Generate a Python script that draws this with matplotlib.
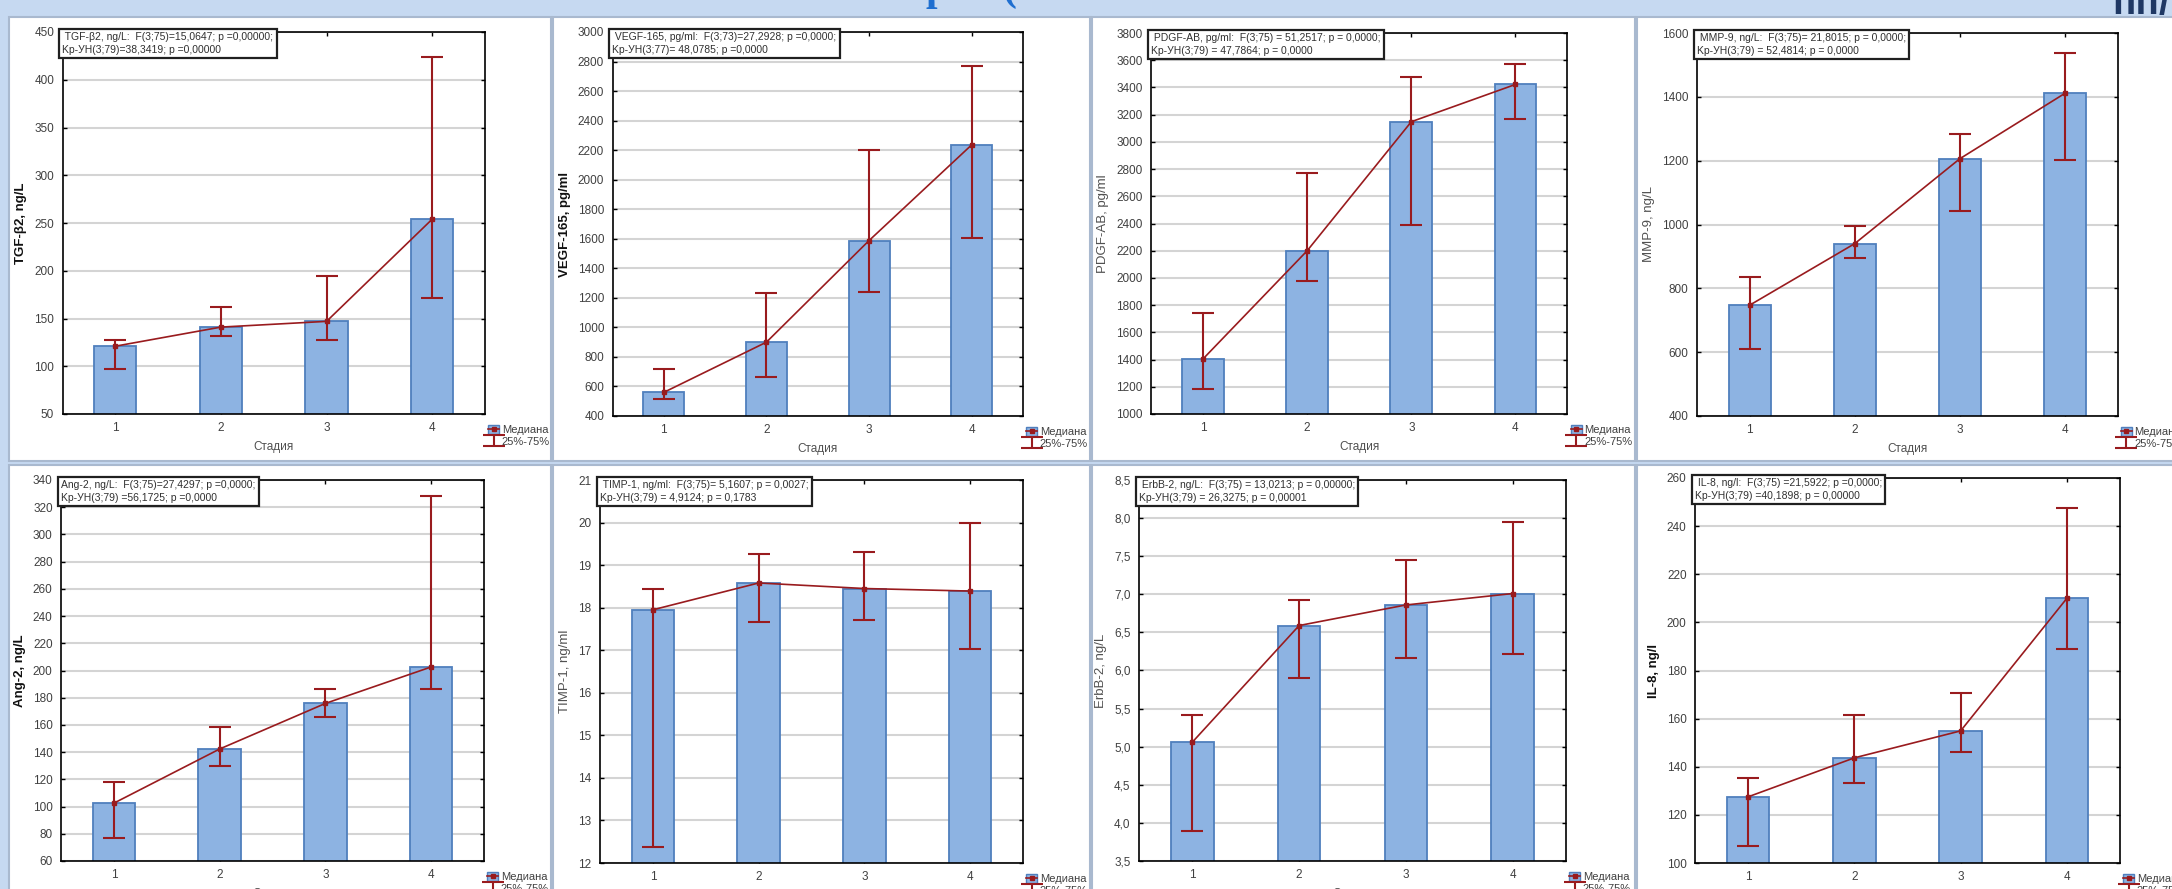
import matplotlib
matplotlib.use("Agg")
import matplotlib.pyplot as plt
from matplotlib.patches import Rectangle, Patch
from matplotlib.lines import Line2D
from matplotlib.ticker import FuncFormatter, MultipleLocator
import numpy as np

# ---------------- data ----------------
stages = [1, 2, 3, 4]
stage_labels = ['1', '2', '3', '4']

tgf_med = [121, 141, 147, 254]
tgf_q1 = [97, 132, 128, 171]
tgf_q3 = [128, 162, 195, 424]

vegf_med = [560, 900, 1588, 2236]
vegf_q1 = [518, 665, 1239, 1605]
vegf_q3 = [716, 1230, 2200, 2772]

pdgf_med = [1405, 2200, 3148, 3422]
pdgf_q1 = [1184, 1978, 2391, 3166]
pdgf_q3 = [1740, 2769, 3477, 3572]

mmp_med = [747, 940, 1206, 1411]
mmp_q1 = [611, 895, 1042, 1201]
mmp_q3 = [836, 996, 1284, 1538]

ang_med = [102.5, 142.3, 175.8, 202.6]
ang_q1 = [76.7, 129.5, 166.1, 186.5]
ang_q3 = [117.7, 158.5, 186.3, 328]

timp_med = [17.95, 18.58, 18.45, 18.39]
timp_q1 = [12.37, 17.66, 17.70, 17.04]
timp_q3 = [18.45, 19.27, 19.31, 20.0]

erb_med = [5.06, 6.59, 6.86, 7.01]
erb_q1 = [3.89, 5.90, 6.17, 6.21]
erb_q3 = [5.42, 6.92, 7.45, 7.95]

il8_med = [127.5, 143.7, 154.9, 210]
il8_q1 = [106.9, 133.1, 146.3, 188.75]
il8_q3 = [135.4, 161.4, 170.6, 247.6]

ylabels = ['TGF-β2, ng/L', 'VEGF-165, pg/ml', 'PDGF-AB, pg/ml', 'MMP-9, ng/L',
           'Ang-2, ng/L', 'TIMP-1, ng/ml', 'ErbB-2, ng/L', 'IL-8, ng/l']
stat_texts = [
    ' TGF-β2, ng/L:  F(3;75)=15,0647; p =0,00000;\nKp-УН(3;79)=38,3419; p =0,00000',
    ' VEGF-165, pg/ml:  F(3;73)=27,2928; p =0,0000;\nKp-УН(3;77)= 48,0785; p =0,0000',
    ' PDGF-AB, pg/ml:  F(3;75) = 51,2517; p = 0,0000;\nKp-УН(3;79) = 47,7864; p = 0,0000',
    ' MMP-9, ng/L:  F(3;75)= 21,8015; p = 0,0000;\nKp-УН(3;79) = 52,4814; p = 0,0000',
    'Ang-2, ng/L:  F(3;75)=27,4297; p =0,0000;\nKp-УН(3;79) =56,1725; p =0,0000',
    ' TIMP-1, ng/ml:  F(3;75)= 5,1607; p = 0,0027;\nKp-УН(3;79) = 4,9124; p = 0,1783',
    ' ErbB-2, ng/L:  F(3;75) = 13,0213; p = 0,00000;\nKp-УН(3;79) = 26,3275; p = 0,00001',
    ' IL-8, ng/l:  F(3;75) =21,5922; p =0,0000;\nKp-УН(3;79) =40,1898; p = 0,00000',
]
xlabel_text = 'Стадия'
legend_labels = ['Медиана', '25%-75%']

# ---------------- style ----------------
W, H = 2172, 889
FONT = ['Liberation Sans Narrow', 'Liberation Sans', 'DejaVu Sans']
plt.rcParams['font.family'] = FONT
BG = '#c6d9f1'
BAR_FC = '#8db3e2'
BAR_EC = '#4f7fbd'
RED = '#991b1e'

fig = plt.figure(figsize=(W / 100, H / 100), dpi=100, facecolor=BG)


def frac_rect(l, t, r, b):
    return [l / W, 1 - b / H, (r - l) / W, (b - t) / H]


# panels (white boxes)
cols = [(9, 551), (553, 1090), (1092, 1635), (1637, 2185)]
rows = [(17, 461), (465, 900)]
for (t, b) in rows:
    for (l, r) in cols:
        fig.patches.append(Rectangle((l / W, 1 - b / H), (r - l) / W, (b - t) / H,
                                     transform=fig.transFigure, facecolor='white',
                                     edgecolor='#a9b9cf', linewidth=1.5, zorder=-10))

# cut-off title fragments at top
fig.text(926 / W, 1.0, 'р', fontsize=30, fontweight='bold', color='#1f6fd0',
         family=['Liberation Serif', 'DejaVu Serif'], va='baseline', ha='left')
fig.text(1002 / W, 1.0, '(', fontsize=30, fontweight='bold', color='#1f6fd0',
         family=['Liberation Serif', 'DejaVu Serif'], va='baseline', ha='left')
fig.text(2112 / W, 1 - 14 / H, 'пп/', fontsize=28, fontweight='bold', color='#1f3864',
         family=['Liberation Sans', 'DejaVu Sans'], va='baseline', ha='left')

axes_px = [
    (62.5, 32, 485, 414),
    (612.5, 32, 1023, 416),
    (1151, 33, 1567.5, 414),
    (1697, 33, 2117.5, 416),
    (61, 480, 484, 861),
    (600, 480, 1023, 863),
    (1139, 480, 1566, 861),
    (1695, 478, 2120, 863),
]
ylims = [(50, 450), (400, 3000), (1000, 3800), (400, 1600),
         (60, 340), (12, 21), (3.5, 8.5), (100, 260)]
ysteps = [50, 200, 200, 200, 20, 1, 0.5, 20]
bold_label = [True, True, False, False, True, False, False, True]

meds = [tgf_med, vegf_med, pdgf_med, mmp_med, ang_med, timp_med, erb_med, il8_med]
q1s = [tgf_q1, vegf_q1, pdgf_q1, mmp_q1, ang_q1, timp_q1, erb_q1, il8_q1]
q3s = [tgf_q3, vegf_q3, pdgf_q3, mmp_q3, ang_q3, timp_q3, erb_q3, il8_q3]

for i in range(8):
    ax = fig.add_axes(frac_rect(*axes_px[i]), zorder=2)
    med = np.array(meds[i], dtype=float)
    lo = np.array(q1s[i], dtype=float)
    hi = np.array(q3s[i], dtype=float)
    ax.bar(stages, med, width=0.4, color=BAR_FC, edgecolor=BAR_EC, linewidth=1.3, zorder=2)
    eb = ax.errorbar(stages, med, yerr=[med - lo, hi - med], fmt='none', ecolor=RED,
                     elinewidth=1.5, capsize=8, capthick=1.5, zorder=3)
    ln, = ax.plot(stages, med, color=RED, lw=1.2, marker='s', ms=3.5, zorder=4)

    ax.set_xlim(0.5, 4.5)
    ax.set_ylim(*ylims[i])
    ax.yaxis.set_major_locator(MultipleLocator(ysteps[i]))
    if i == 6:
        ax.yaxis.set_major_formatter(FuncFormatter(lambda v, p: f'{v:.1f}'.replace('.', ',')))
    else:
        ax.yaxis.set_major_formatter(FuncFormatter(lambda v, p: f'{v:.0f}'))
    ax.set_xticks(stages)
    ax.set_xticklabels(stage_labels)
    ax.grid(axis='y', color='#d4d4d4', lw=1.5, zorder=0)
    ax.set_axisbelow(True)
    ax.tick_params(direction='in', length=3, width=1, top=True, right=True,
                   labelsize=8.5, labelcolor='#404040', pad=6)
    for sp in ax.spines.values():
        sp.set_linewidth(1.2)
        sp.set_color('black')

    ax.set_ylabel(ylabels[i], fontsize=9.5,
                  fontweight='bold' if bold_label[i] else 'normal',
                  color='#111111' if bold_label[i] else '#505050', labelpad=5)
    ax.set_xlabel(xlabel_text, fontsize=8.5, color='#505050', labelpad=5)

    ax.text(0.0, 1.0, stat_texts[i], transform=ax.transAxes, va='top', ha='left',
            fontsize=7.5, color='#303030', linespacing=1.4, zorder=10,
            bbox=dict(boxstyle='square,pad=0.3', facecolor='white', edgecolor='#202020', lw=1.6))

    h1 = (Patch(facecolor=BAR_FC, edgecolor=BAR_EC),
          Line2D([0], [0], color=RED, lw=1.2, marker='s', ms=3))
    ax.legend([h1, eb], legend_labels, loc='upper left', bbox_to_anchor=(1.0, -0.02),
              frameon=False, fontsize=8, handlelength=1.0, handleheight=0.9,
              handletextpad=0.2, labelspacing=0.1, borderpad=0.1, borderaxespad=0.2,
              labelcolor='#404040')

fig.savefig('out.png', dpi=100, facecolor=BG)
